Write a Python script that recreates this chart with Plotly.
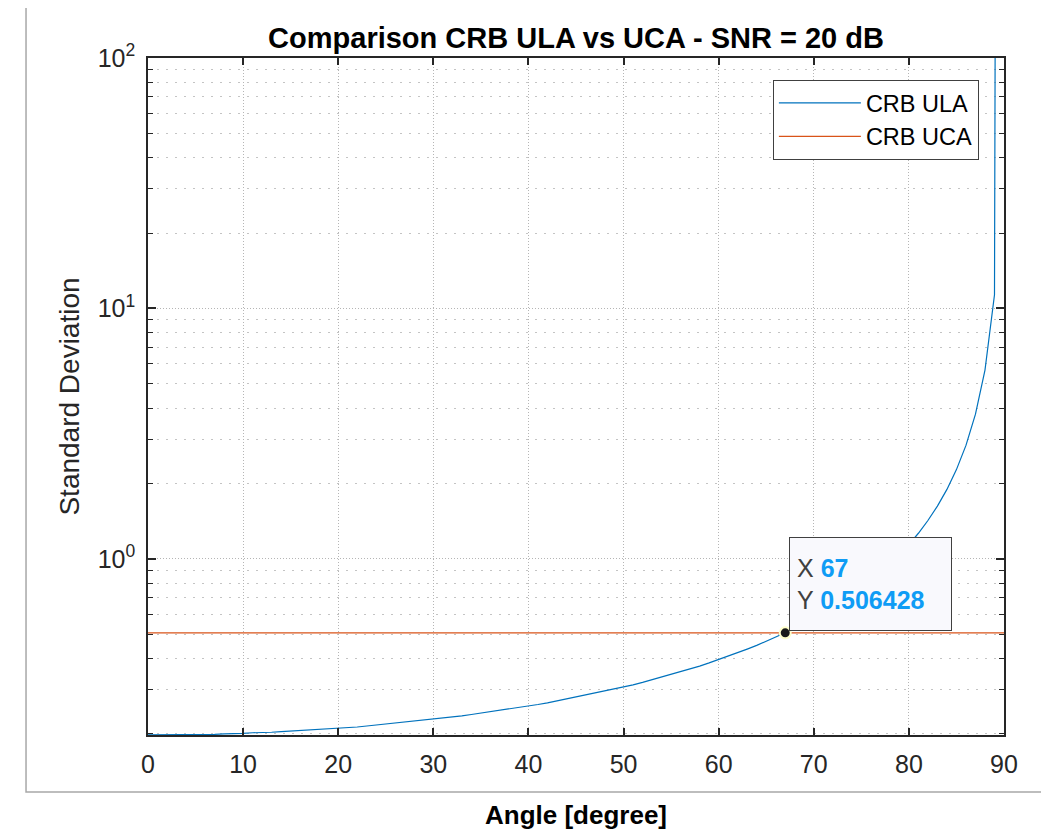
import numpy as np
import plotly.graph_objects as go

# ---------------- data ----------------
angles = list(range(0, 91))
crb_ula = [
    0.198, 0.198, 0.198, 0.198, 0.198, 0.199, 0.199, 0.199, 0.200, 0.200,
    0.201, 0.202, 0.202, 0.203, 0.204, 0.205, 0.206, 0.207, 0.208, 0.209,
    0.211, 0.212, 0.213, 0.215, 0.217, 0.218, 0.220, 0.222, 0.224, 0.226,
    0.229, 0.231, 0.233, 0.236, 0.239, 0.242, 0.245, 0.248, 0.251, 0.255,
    0.258, 0.262, 0.266, 0.271, 0.275, 0.280, 0.285, 0.290, 0.296, 0.302,
    0.308, 0.314, 0.321, 0.329, 0.337, 0.345, 0.354, 0.363, 0.373, 0.384,
    0.396, 0.408, 0.422, 0.436, 0.451, 0.468, 0.487, 0.506428, 0.528, 0.552,
    0.579, 0.608, 0.640, 0.677, 0.718, 0.765, 0.818, 0.880, 0.952, 1.037,
    1.140, 1.265, 1.422, 1.624, 1.893, 2.271, 2.837, 3.781, 5.671, 11.34,
    3.2e15,
]
uca_angles = [0, 90]
crb_uca = [0.506428, 0.506428]

tip_x = 67
tip_y = 0.506428

x_ticks = [0, 10, 20, 30, 40, 50, 60, 70, 80, 90]
y_ticks = [1, 10, 100]
y_ticktext = ["10<sup>0</sup>", "10<sup>1</sup>", "10<sup>2</sup>"]
y_minor = [0.2, 0.3, 0.4, 0.5, 0.6, 0.7, 0.8, 0.9,
           2, 3, 4, 5, 6, 7, 8, 9,
           20, 30, 40, 50, 60, 70, 80, 90]

FONT = "Liberation Sans, Arial, Helvetica, sans-serif"
AX = "#262626"

fig = go.Figure()
fig.add_trace(go.Scatter(x=angles, y=crb_ula, mode="lines", name="CRB ULA",
                         line=dict(color="#0072BD", width=1.2)))
fig.add_trace(go.Scatter(x=uca_angles, y=crb_uca, mode="lines", name="CRB UCA",
                         line=dict(color="#D95319", width=1.2)))
fig.add_trace(go.Scatter(x=[tip_x], y=[tip_y], mode="markers", showlegend=False,
                         marker=dict(size=11, color="#1a1a1a",
                                     line=dict(color="#ffffcc", width=2)),
                         hoverinfo="skip"))

fig.add_annotation(
    x=tip_x, y=np.log10(tip_y), xref="x", yref="y",
    text=("<span style='color:#404040'>X</span> <span style='color:#0f9cf5'><b>67</b></span><br>"
          "<span style='color:#404040'>Y</span> <span style='color:#0f9cf5'><b>0.506428</b></span>"),
    showarrow=True, arrowcolor="rgba(0,0,0,0)", ax=85, ay=-49,
    align="left", width=147, height=78, borderpad=7,
    bgcolor="#f9f9fd", bordercolor="#404040", borderwidth=1,
    font=dict(family=FONT, size=25, color="#404040"),
)

# outer figure frame
fig.add_shape(type="rect", xref="paper", yref="paper",
              x0=-0.1425, x1=1.2, y0=-0.0842, y1=1.0783,
              line=dict(color="#a8a8a8", width=1.5), layer="below")

fig.update_layout(
    width=1041, height=824,
    margin=dict(l=140, r=45, t=50, b=97, autoexpand=False),
    paper_bgcolor="white", plot_bgcolor="white",
    font=dict(family=FONT, color=AX),
    title=dict(text="<b>Comparison CRB ULA vs UCA - SNR = 20 dB</b>",
               x=0.5, xref="paper", xanchor="center",
               y=1 - 30 / 824, yanchor="middle",
               font=dict(family=FONT, size=29, color="black")),
    showlegend=True,
    legend=dict(x=0.730, y=0.9675, xanchor="left", yanchor="top",
                bgcolor="white", bordercolor="#404040", borderwidth=1,
                font=dict(family=FONT, size=23.5, color="black"),
                itemwidth=82, tracegroupgap=0),
)

fig.update_xaxes(
    range=[0, 90], tickmode="array", tickvals=x_ticks, automargin=False,
    showline=True, linecolor=AX, linewidth=1.5, mirror="allticks",
    ticks="inside", ticklen=7, tickcolor=AX, tickwidth=1.5,
    tickfont=dict(family=FONT, size=25, color=AX), ticklabelstandoff=6,
    showgrid=True, gridcolor="#b5b5b5", griddash="1px,2px", gridwidth=1,
    zeroline=False,
    title=dict(text="<b>Angle [degree]</b>", standoff=29,
               font=dict(family=FONT, size=26, color="black")),
)
fig.update_yaxes(
    type="log", range=[np.log10(0.1979), 2], automargin=False,
    tickmode="array", tickvals=y_ticks, ticktext=y_ticktext,
    showline=True, linecolor=AX, linewidth=1.5, mirror="allticks",
    ticks="inside", ticklen=8, tickcolor=AX, tickwidth=1.5,
    tickfont=dict(family=FONT, size=25, color=AX), ticklabelstandoff=6,
    showgrid=True, gridcolor="#b5b5b5", griddash="1px,2px", gridwidth=1,
    zeroline=False,
    minor=dict(tickmode="array", tickvals=y_minor, ticks="inside", ticklen=5,
               tickcolor=AX, tickwidth=1.2, showgrid=True,
               gridcolor="#c4c4c4", griddash="2px,7px", gridwidth=1),
    title=dict(text="Standard Deviation", standoff=10,
               font=dict(family=FONT, size=28, color=AX)),
)

fig.write_html("out.html")
